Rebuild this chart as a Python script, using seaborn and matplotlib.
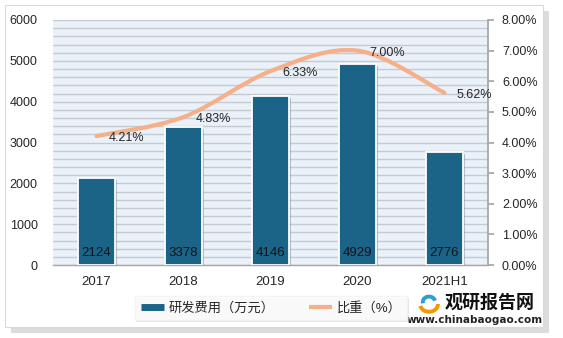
import matplotlib
matplotlib.use("Agg")
import matplotlib.pyplot as plt
import seaborn as sns
import pandas as pd
import numpy as np
from matplotlib.path import Path
from matplotlib.patches import PathPatch, Rectangle, Arc
from matplotlib.lines import Line2D
from matplotlib.ticker import MultipleLocator, FuncFormatter
import matplotlib.patheffects as pe

categories = ["2017", "2018", "2019", "2020", "2021H1"]
rd_cost = [2124, 3378, 4146, 4929, 2776]
ratio = [4.21, 4.83, 6.33, 7.00, 5.62]
bar_label = "研发费用（万元）"
line_label = "比重（%）"

sns.set_theme(style="white")
plt.rcParams["font.family"] = ["Liberation Sans", "Noto Sans CJK SC", "DejaVu Sans"]

BAR_C = "#1B6488"
LINE_C = "#F5B08A"
TXT_C = "#262626"
GRID_C = "#C5CAD0"
AX_BG = "#EAF1F8"

fig = plt.figure(figsize=(5.63, 3.38), dpi=100)
fig.patch.set_facecolor("white")

W, H = 563, 338
def fx(px): return px / W
def fy(py): return 1 - py / H

# outer frame with shadow
frame = Rectangle((fx(5), fy(327)), fx(543) - fx(5), fy(5) - fy(327),
                  transform=fig.transFigure, facecolor="white",
                  edgecolor="#DADADA", lw=0.8, zorder=-10)
frame.set_path_effects([pe.SimplePatchShadow(offset=(4, -4), shadow_rgbFace="#BBBBBB", alpha=0.5), pe.Normal()])
fig.patches.append(frame)

ax = fig.add_axes([fx(53), fy(265), fx(488) - fx(53), fy(20) - fy(265)])
ax.set_zorder(1)
ax.set_facecolor(AX_BG)

df = pd.DataFrame({"cat": categories, "cost": rd_cost, "ratio": ratio})
sns.barplot(data=df, x="cat", y="cost", color=BAR_C, width=0.43, ax=ax,
            saturation=1, edgecolor="white", linewidth=1.3, zorder=3)
for p in ax.patches:
    p.set_path_effects([pe.SimplePatchShadow(offset=(1.5, -1.5), shadow_rgbFace="#7A8A99", alpha=0.5), pe.Normal()])

ax.set_xlim(-0.5, 4.5)
ax.set_ylim(0, 6000)
ax.yaxis.set_major_locator(MultipleLocator(1000))
ax.yaxis.set_minor_locator(MultipleLocator(200))
ax.grid(True, axis="y", which="both", color=GRID_C, lw=1.0, zorder=0)
ax.set_axisbelow(True)
ax.set_xlabel("")
ax.set_ylabel("")
for s in ["top", "left", "right"]:
    ax.spines[s].set_visible(False)
ax.spines["bottom"].set_color("#A6A6A6")
ax.spines["bottom"].set_linewidth(1.0)
ax.tick_params(axis="y", which="both", length=0, labelsize=9, labelcolor=TXT_C, pad=11)
ax.tick_params(axis="x", length=0, labelsize=9.5, labelcolor=TXT_C, pad=8)

for i, v in enumerate(rd_cost):
    ax.text(i, 140, f"{v}", ha="center", va="bottom", fontsize=9.5, color="#141414", zorder=5)

ax2 = ax.twinx()
ax2.set_zorder(2)
ax2.set_ylim(0, 8)
ax2.yaxis.set_major_locator(MultipleLocator(1))
ax2.yaxis.set_major_formatter(FuncFormatter(lambda v, p: f"{v:.2f}%"))
for s in ["top", "left", "bottom"]:
    ax2.spines[s].set_visible(False)
ax2.spines["right"].set_color("#A6A6A6")
ax2.tick_params(axis="y", length=4, color="#A6A6A6", labelsize=9, labelcolor=TXT_C, pad=6)

# smooth line (Catmull-Rom bezier path through the data points)
xs = np.arange(len(ratio), dtype=float)
ys = np.array(ratio, dtype=float)
pts = np.column_stack([xs, ys])
verts = [tuple(pts[0])]
codes = [Path.MOVETO]
n = len(pts)
for i in range(n - 1):
    p0 = pts[i - 1] if i > 0 else pts[i]
    p1 = pts[i]
    p2 = pts[i + 1]
    p3 = pts[i + 2] if i + 2 < n else pts[i + 1]
    c1 = p1 + (p2 - p0) / 6
    c2 = p2 - (p3 - p1) / 6
    verts += [tuple(c1), tuple(c2), tuple(p2)]
    codes += [Path.CURVE4] * 3
patch = PathPatch(Path(verts, codes), facecolor="none", edgecolor=LINE_C,
                  lw=3.0, capstyle="round", joinstyle="round", zorder=4)
ax2.add_patch(patch)

for i, v in enumerate(ratio):
    ax2.annotate(f"{v:.2f}%", (i, v), xytext=(8.5, -1.5), textcoords="offset points",
                 ha="left", va="center", fontsize=9, color=TXT_C, zorder=5)

# legend
handles = [Line2D([0], [0], color=BAR_C, lw=5, solid_capstyle="butt"),
           Line2D([0], [0], color=LINE_C, lw=3, solid_capstyle="butt")]
leg = fig.legend(handles, [bar_label, line_label], loc="center",
                 bbox_to_anchor=(fx(271), fy(308)), ncol=2, frameon=True,
                 fontsize=9.5, handlelength=1.8, handletextpad=0.3,
                 columnspacing=2.6, borderpad=0.45, fancybox=False)
leg.get_frame().set_facecolor("white")
leg.get_frame().set_edgecolor("#F2F2F2")
leg.get_frame().set_path_effects([pe.SimplePatchShadow(offset=(1, -1.5), shadow_rgbFace="#CCCCCC", alpha=0.5), pe.Normal()])
for t in leg.get_texts():
    t.set_color(TXT_C)

# watermark
lx, ly = fx(429), fy(304)
fig.patches.append(Arc((lx, ly), 0.032, 0.046, theta1=200, theta2=360, color="#F39800", lw=2.8, transform=fig.transFigure))
fig.patches.append(Arc((lx, ly + 0.006), 0.022, 0.032, theta1=20, theta2=200, color="#2A9FD6", lw=2.8, transform=fig.transFigure))
fig.text(fx(490), fy(302), "观研报告网", ha="center", va="center", fontsize=13,
         fontweight="bold", family=["Noto Sans CJK SC"], color="#111111")
fig.text(fx(475), fy(320), "www.chinabaogao.com", ha="center", va="center", fontsize=7.5,
         fontweight="bold", family=["DejaVu Sans"], color="#222222")

fig.savefig("out.png", dpi=100)
